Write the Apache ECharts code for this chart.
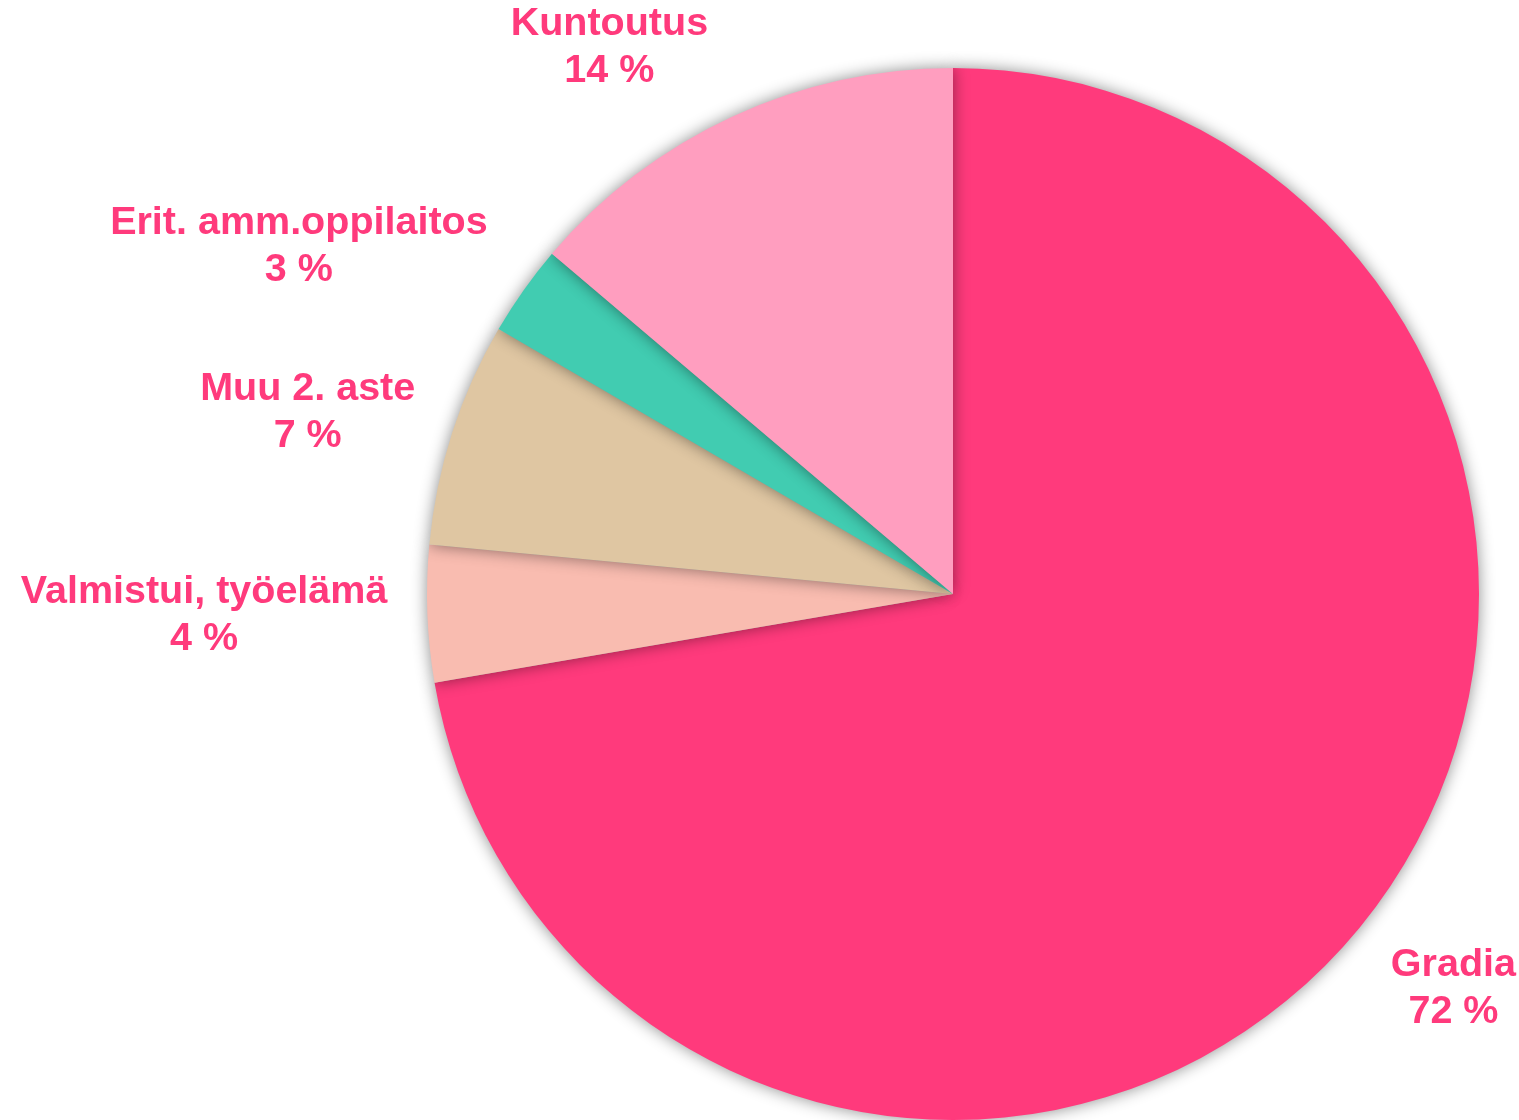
<!DOCTYPE html>
<html>
<head>
    <meta charset="utf-8">
    <title>Jatkosijoittuminen</title>
    <script src="https://cdn.jsdelivr.net/npm/echarts@6/dist/echarts.min.js"></script>
    <style>
        html, body { margin: 0; padding: 0; background: #fff; }
    </style>
</head>
<body>
    <div id="main" style="width: 1519px;height:1120px;"></div>
    <script type="text/javascript">
        // data (share of students, %)
        var names = ['Gradia', 'Valmistui, työelämä', 'Muu 2. aste', 'Erit. amm.oppilaitos', 'Kuntoutus'];
        var values = [72.3, 4.2, 6.9, 2.8, 13.8];
        var colors = ['#FF3A7C', '#F9BCB0', '#DFC6A2', '#41CCB1', '#FF9EBF'];

        // how far each label sits from the pie (labelLine lengths, line itself hidden)
        var lineLen = [86, 40, 66, 76, 76];
        var lineLen2 = [-35, 0, -27, -27, -13];

        var myChart = echarts.init(document.getElementById('main'));

        var pieData = names.map(function (n, i) {
            return {
                name: n,
                value: values[i],
                itemStyle: { color: colors[i] },
                labelLine: { show: false, length: lineLen[i], length2: lineLen2[i] }
            };
        });

        var option = {
            backgroundColor: '#ffffff',
            animation: false,
            series: [{
                type: 'pie',
                left: 0,
                top: 0,
                right: -80,
                bottom: 0,
                center: [953, 594],
                radius: 526,
                startAngle: 90,
                clockwise: true,
                data: pieData,
                itemStyle: {
                    borderWidth: 0,
                    shadowBlur: 16,
                    shadowColor: 'rgba(0,0,0,0.45)'
                },
                emphasis: { disabled: true },
                label: {
                    show: true,
                    position: 'outside',
                    color: '#FF3A7C',
                    fontFamily: 'Liberation Sans, Arial, sans-serif',
                    fontWeight: 'bold',
                    fontSize: 39.5,
                    lineHeight: 47,
                    overflow: 'none',
                    bleedMargin: 0,
                    distanceToLabelLine: 5,
                    formatter: function (p) {
                        return p.name + '\n' + Math.round(p.percent) + ' %';
                    }
                },
                // keep the library's label box, but centre the two lines in it
                labelLayout: function (params) {
                    var r = params.labelRect;
                    return {
                        x: r.x + r.width / 2,
                        y: r.y + r.height / 2,
                        align: 'center',
                        verticalAlign: 'middle'
                    };
                }
            }]
        };

        myChart.setOption(option);
    </script>
</body>
</html>
